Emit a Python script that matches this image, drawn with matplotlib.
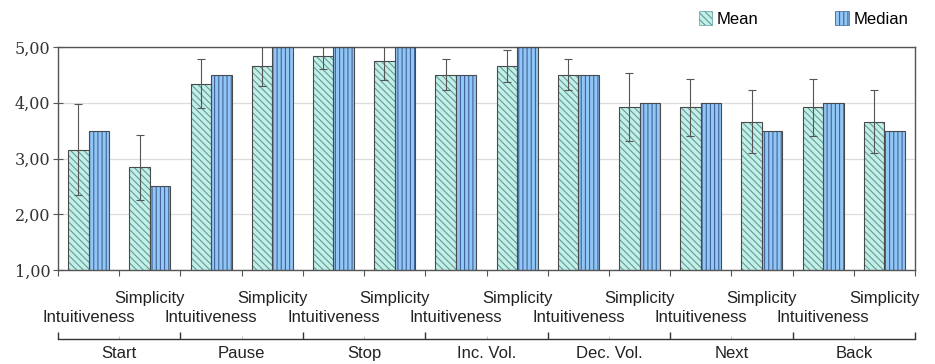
import numpy as np
import matplotlib
matplotlib.use('Agg')
import matplotlib.pyplot as plt
from matplotlib.patches import Patch
from matplotlib.ticker import FixedLocator, FuncFormatter

# data
groups = ['Start', 'Pause', 'Stop', 'Inc. Vol.', 'Dec. Vol.', 'Next', 'Back']
criteria = ['Intuitiveness', 'Simplicity']
mean = [3.16, 2.84, 4.34, 4.66, 4.83, 4.74, 4.50, 4.66, 4.50, 3.92, 3.92, 3.66, 3.92, 3.66]
mean_err = [0.82, 0.58, 0.44, 0.36, 0.22, 0.34, 0.28, 0.28, 0.28, 0.61, 0.51, 0.56, 0.51, 0.56]
median = [3.5, 2.5, 4.5, 5.0, 5.0, 5.0, 4.5, 5.0, 4.5, 4.0, 4.0, 3.5, 4.0, 3.5]

plt.rcParams['font.family'] = ['Liberation Sans', 'DejaVu Sans']
plt.rcParams['hatch.linewidth'] = 0.8

mean_face = '#c4efe6'
mean_hatch = '#5f9c9c'
med_face = '#92c6f5'
med_hatch = '#40649a'
edge = '#4a4a4a'
mean_pat = '\\' * 5
med_pat = '||||'

n = len(mean)
x = np.arange(n)
w = 0.335

fig = plt.figure(figsize=(9.35, 3.64), dpi=100)
ax = fig.add_axes([58/935, 1-270/364, (915-58)/935, (270-47)/364])

# bars: fill + hatch first, outline on top
ax.bar(x - w/2, mean, w, color=mean_face, edgecolor=mean_hatch,
       hatch=mean_pat, linewidth=0, zorder=2)
ax.bar(x - w/2, mean, w, fill=False, edgecolor=edge, linewidth=0.8, zorder=3)
ax.bar(x + w/2, median, w, color=med_face, edgecolor=med_hatch,
       hatch=med_pat, linewidth=0, zorder=2)
ax.bar(x + w/2, median, w, fill=False, edgecolor=edge, linewidth=0.8, zorder=3)
ax.errorbar(x - w/2, mean, yerr=mean_err, fmt='none', ecolor='#555555',
            elinewidth=0.8, capsize=3, capthick=0.8, zorder=4)

ax.set_xlim(-0.5, n - 0.5)
ax.set_ylim(1, 5)
ax.set_yticks([1, 2, 3, 4, 5])
ax.yaxis.set_major_formatter(FuncFormatter(lambda v, p: ('%.2f' % v).replace('.', ',')))
for lab in ax.get_yticklabels():
    lab.set_family('DejaVu Serif')
ax.tick_params(axis='y', direction='inout', length=7, width=0.8, colors='#555555',
               labelsize=11.5, labelcolor='#333333', pad=2)
ax.grid(axis='y', color='#dcdcdc', linewidth=0.9, zorder=0)
ax.set_axisbelow(True)

# slot boundary ticks
ax.xaxis.set_major_locator(FixedLocator(np.arange(n + 1) - 0.5))
ax.xaxis.set_major_formatter(FuncFormatter(lambda v, p: ''))
ax.tick_params(axis='x', which='major', direction='out', length=4, width=0.8, colors='#555555')

# criterion labels in two staggered rows
tr = ax.get_xaxis_transform()
for i in range(n):
    if i % 2 == 0:
        ax.text(x[i], -48/223, criteria[0], transform=tr, ha='center', va='center',
                fontsize=12, color='#222222')
    else:
        ax.text(x[i], -29/223, criteria[1], transform=tr, ha='center', va='center',
                fontsize=12, color='#222222')

for s in ax.spines.values():
    s.set_color('#555555')
    s.set_linewidth(1.0)

# group bracket axis below
sec = ax.secondary_xaxis(-69/223)
sec.set_xticks(np.arange(0, n + 1, 2) - 0.5)
sec.set_xticklabels([''] * (len(groups) + 1))
sec.set_xticks(np.arange(0, n, 2) + 0.5, groups, minor=True)
sec.tick_params(axis='x', which='major', direction='in', length=5, width=1.0, colors='#333333')
sec.tick_params(axis='x', which='minor', direction='in', length=2, width=0.6, colors='#bbbbbb',
                labelsize=12, labelcolor='#222222', pad=5)
sec.spines['bottom'].set_color('#333333')
sec.spines['bottom'].set_linewidth(1.0)

handles = [Patch(facecolor=mean_face, edgecolor=mean_hatch, hatch=mean_pat, linewidth=0.5),
           Patch(facecolor=med_face, edgecolor=med_hatch, hatch=med_pat, linewidth=0.5)]
fig.legend(handles, ['Mean', 'Median'], loc='center right', bbox_to_anchor=(917/935, 1-19/364),
           ncol=2, frameon=False, fontsize=12, handlelength=0.8, handleheight=0.9,
           handletextpad=0.3, columnspacing=4.6, borderpad=0)

plt.savefig('out.png', dpi=100)
